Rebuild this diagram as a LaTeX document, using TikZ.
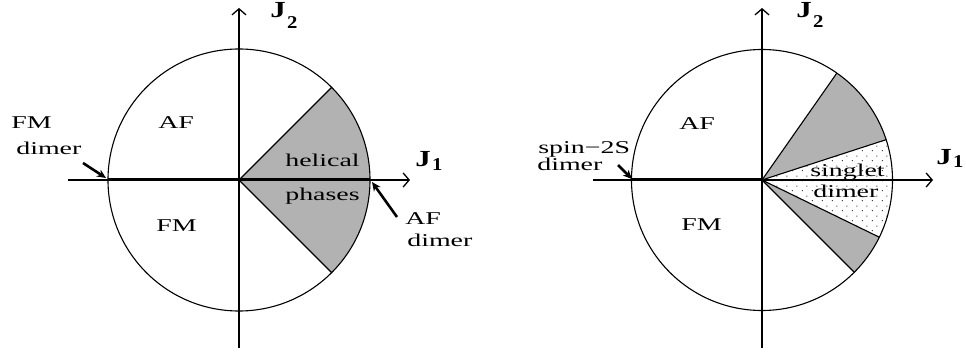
\documentclass[tikz,border=0pt]{standalone}
\usepackage{fontspec}
\setmainfont{Liberation Serif}
\usetikzlibrary{arrows.meta,patterns.meta}
\tikzdeclarepattern{
  name=sparsedots,
  type=uncolored,
  bottom left={(0pt,0pt)},
  top right={(10pt,10pt)},
  tile size={(10pt,10pt)},
  code={\fill (2.5pt,2.5pt) circle (0.6pt); \fill (7.5pt,7.5pt) circle (0.6pt);}
}
\tikzset{
  axis/.style={line width=1.1pt,-{Straight Barb[length=6pt,width=14pt,line width=1.3pt]}},
  rim/.style={line width=1.1pt},
  thickline/.style={line width=3pt},
  pointer/.style={line width=2.6pt,-{Stealth[length=9pt,width=8pt]}},
  dense/.style={fill=black!30},
  sparse/.style={pattern=sparsedots,pattern color=black},
  lbl/.style={font=\fontsize{18}{20}\selectfont,inner sep=0pt,xscale=1.55,anchor=base west},
  jlbl/.style={font=\fontsize{23}{24}\selectfont\bfseries,inner sep=0pt,xscale=1.35,anchor=base west},
  jsub/.style={font=\fontsize{18}{20}\selectfont\bfseries,inner sep=0pt,xscale=1.15,anchor=base west},
}
\begin{document}
\begin{tikzpicture}[x=1pt,y=1pt]
\useasboundingbox (0,0) rectangle (966,353);
% ---------- left diagram ----------
\coordinate (O1) at (239,173);
\def\Ra{131}
\fill[dense] (O1) -- ++(45:\Ra) arc (45:-45:\Ra) -- cycle;
\draw[rim] (O1) -- ++(45:\Ra);
\draw[rim] (O1) -- ++(-45:\Ra);
\draw[rim] (O1) circle (\Ra);
\coordinate (L1w) at (68,173);
\coordinate (L1e) at (410,173);
\coordinate (L1s) at (239,5);
\coordinate (L1n) at (239,345);
\draw[axis] (L1w) -- (L1e);
\draw[axis] (L1s) -- (L1n);
\coordinate (C1e) at (370,173);
\coordinate (C1wb) at (108,173);
\draw[thickline] (C1wb) -- (C1e);
\coordinate (fmdT) at (83,190);
\coordinate (fmdH) at (106,175);
\draw[pointer] (fmdT) -- (fmdH);
\coordinate (afdT) at (397,136);
\coordinate (afdH) at (372,171);
\draw[pointer] (afdT) -- (afdH);
\node[lbl] (afL) at (158,224) {AF};
\node[lbl] (fmL) at (156,121) {FM};
\node[lbl] (fmdA) at (11,224) {FM};
\node[lbl] (fmdB) at (16,198) {dimer};
\node[lbl] (afdA) at (405,128) {AF};
\node[lbl] (afdB) at (407,106) {dimer};
\node[lbl] (hel) at (285,186) {helical};
\node[lbl] (pha) at (285,152) {phases};
\node[jlbl] (J2a) at (270,335) {J};
\node[jsub] (J2as) at (287,324) {2};
\node[jlbl] (J1a) at (415,186) {J};
\node[jsub] (J1as) at (432,182) {1};
% ---------- right diagram ----------
\coordinate (O2) at (762,173);
\def\Rb{130.5}
\fill[dense] (O2) -- ++(55:\Rb) arc (55:18:\Rb) -- cycle;
\fill[sparse] (O2) -- ++(18:\Rb) arc (18:-26:\Rb) -- cycle;
\fill[dense] (O2) -- ++(-26:\Rb) arc (-26:-45:\Rb) -- cycle;
\draw[rim] (O2) -- ++(55:\Rb);
\draw[rim] (O2) -- ++(18:\Rb);
\draw[rim] (O2) -- ++(-26:\Rb);
\draw[rim] (O2) -- ++(-45:\Rb);
\draw[rim] (O2) circle (\Rb);
\coordinate (L2w) at (593,173);
\coordinate (L2e) at (933,173);
\coordinate (L2s) at (762,5);
\coordinate (L2n) at (762,345);
\draw[axis] (L2w) -- (L2e);
\draw[axis] (L2s) -- (L2n);
\coordinate (C2w) at (632,173);
\draw[thickline] (C2w) -- (O2);
\coordinate (spdT) at (618,188);
\coordinate (spdH) at (632,174);
\draw[pointer] (spdT) -- (spdH);
\node[lbl] (afR) at (679,223) {AF};
\node[lbl] (fmR) at (681,122) {FM};
\node[lbl] (spA) at (538,199) {spin−2S};
\node[lbl] (spB) at (537,182) {dimer};
\node[lbl] (sgA) at (810,176) {singlet};
\node[lbl] (sgB) at (813,155) {dimer};
\node[jlbl] (J2b) at (796,335) {J};
\node[jsub] (J2bs) at (813,325) {2};
\node[jlbl] (J1b) at (936,188) {J};
\node[jsub] (J1bs) at (953,185) {1};
\end{tikzpicture}
\end{document}
